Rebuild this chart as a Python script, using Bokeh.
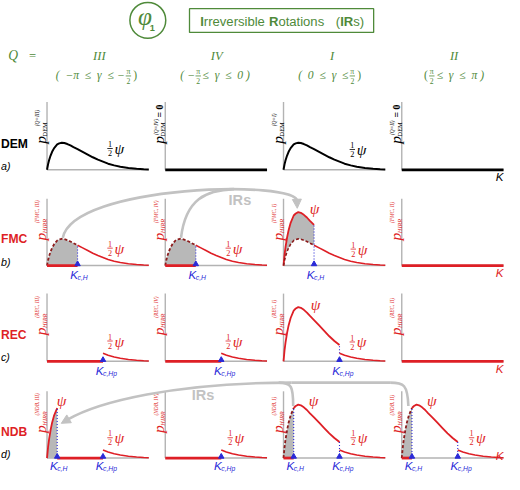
import math
from bokeh.plotting import figure
from bokeh.models import Range1d, Arrow, NormalHead
from bokeh.core.properties import value
from bokeh.embed import file_html
from bokeh.resources import INLINE

# ---------------- values ----------------
quadrants = ["III", "IV", "I", "II"]
row_names = ["DEM", "FMC", "REC", "NDB"]
row_letters = ["a)", "b)", "c)", "d)"]
# normalised orientation distribution psi(K) (sampled off the drawn curve)
K_grid = [0.0, 0.01, 0.02, 0.035, 0.05, 0.07, 0.10, 0.12, 0.145, 0.17, 0.20, 0.23,
          0.26, 0.30, 0.35, 0.40, 0.45, 0.50, 0.55, 0.60, 0.66, 0.72, 0.80, 0.88, 0.95, 1.0]
psi = [0.0, 0.16, 0.28, 0.42, 0.53, 0.64, 0.75, 0.78, 0.80, 0.79, 0.76, 0.72,
       0.67, 0.61, 0.53, 0.45, 0.37, 0.30, 0.24, 0.18, 0.13, 0.09, 0.055, 0.03, 0.015, 0.01]
half_psi = [v / 2 for v in psi]
Kc_H_FMC = 0.30
Kc_H_NDB = 0.10
Kc_Hp = 0.55

# ---------------- layout / style ----------------
COL_X = [48, 170, 292, 414]
PW = 105
ROW_TOP = [105, 205, 303, 404]
ROW_BASE = [175, 274, 373, 473]
GREEN = "#4f8a3a"
RED = "#de1f26"
DARK = "#8c1c1c"
BLUE = "#2a2ad8"
AXG = "#b3b3b3"
ARG = "#c2c2c2"
SHADE = "#b8b8b8"
SERIF = "Liberation Serif"
SANS = "Liberation Sans"
FS = 0.97
SP = " \u00a0"  # wide space that survives SVG whitespace collapsing

fig = figure(width=504, height=474, x_range=Range1d(0, 520), y_range=Range1d(0, 490),
             output_backend="svg", toolbar_location=None, min_border=0,
             x_axis_type=None, y_axis_type=None)
fig.grid.visible = False
fig.outline_line_color = None


def SY(y):
    return 490 - y


def PX(c, k):
    return COL_X[c] + k * PW


def PY(r, v):
    return ROW_BASE[r] - v * (ROW_BASE[r] - ROW_TOP[r])


def T(x, y, s, size, color, font=SANS, style="normal", align="left", baseline="middle", angle=0.0):
    fig.text(x=[x], y=[SY(y)], text=[s], text_font=value(font),
             text_font_size=value(f"{size * FS:.2f}px"),
             text_font_style=value(style), text_color=color, text_align=value(align),
             text_baseline=value(baseline), angle=angle)


def L(xs, ys, color, width, dash="solid"):
    fig.line(xs, [SY(y) for y in ys], line_color=color, line_width=width, line_dash=dash)


def seg(k0, k1):
    return [i for i, k in enumerate(K_grid) if k0 - 1e-9 <= k <= k1 + 1e-9]


def at(vals, k):
    i = min(range(len(K_grid)), key=lambda j: abs(K_grid[j] - k))
    return vals[i]


def curve(c, r, vals, k0, k1, color, width=1.8, dash="solid"):
    idx = seg(k0, k1)
    L([PX(c, K_grid[i]) for i in idx], [PY(r, vals[i]) for i in idx], color, width, dash)


def shade(c, r, k0, k1, upper, lower=None):
    idx = seg(k0, k1)
    fig.varea(x=[PX(c, K_grid[i]) for i in idx],
              y1=[SY(PY(r, upper[i])) for i in idx],
              y2=[SY(PY(r, lower[i] if lower else 0.0)) for i in idx],
              fill_color=SHADE, fill_alpha=1.0)


def vdot(c, r, k, vtop, vbot=0.0):
    L([PX(c, k), PX(c, k)], [PY(r, vbot), PY(r, vtop)], BLUE, 1.1, "1 2")


def thick(c, r, k0, k1, color):
    L([PX(c, k0), PX(c, k1)], [ROW_BASE[r], ROW_BASE[r]], color, 2.8)


def marker(c, r, k):
    fig.scatter(x=[PX(c, k)], y=[SY(ROW_BASE[r] - 1.5)], marker="triangle", size=5.5,
                fill_color=BLUE, line_color=BLUE)


def klabel(c, r, k, sub, dy=0):
    x = PX(c, k)
    b = ROW_BASE[r]
    T(x + 0.5, b + 9 + dy, "K", 12, BLUE, SANS, "italic", "right")
    T(x, b + 12.5 + dy, sub, 7, BLUE, SANS, "italic", "left")


def frac(x, y, top, bot, color, size=8.5):
    T(x, y - 4.5, top, size, color, SERIF, "normal", "center")
    T(x, y + 4.8, bot, size, color, SERIF, "normal", "center")
    L([x - 2.8, x + 2.8], [y, y], color, 0.8)


def half_label(x, y, color):
    frac(x, y, "1", "2", color)
    T(x + 4.5, y, "\u03c8", 16, color, SERIF, "italic", "left")


def psi_label(x, y, color):
    T(x, y, "\u03c8", 16, color, SERIF, "italic", "left")


def ylab(c, r, sub, sup, color, eq0=False, sub_style="italic"):
    x0 = COL_X[c]
    top = ROW_TOP[r]
    A = math.pi / 2
    T(x0 - 6.5, top + 43, "p", 16, color, SERIF, "italic", "left", "middle", A)
    T(x0 - 2.5, top + 35.5, sub, 6.5, color, SERIF, sub_style, "left", "middle", A)
    if eq0:
        T(x0 - 10, top + 34, sup, 5.5, color, SERIF, "italic", "left", "middle", A)
        T(x0 - 5.5, top + 16, "= 0", 10, color, SERIF, "bold", "left", "middle", A)
    else:
        T(x0 - 10, top + 25, sup, 5.5, color, SERIF, "italic", "left", "middle", A)


# ---------------- header ----------------
fig.circle(x=[152], y=[SY(20.5)], radius=18.5, fill_color=None, line_color=GREEN, line_width=1.5)
T(149, 17, "\u03c6", 26, GREEN, SERIF, "italic", "center")
T(156.5, 28.5, "1", 9.5, GREEN, SANS, "bold", "center")
fig.quad(left=[195], right=[385], top=[SY(8.5)], bottom=[SY(33)], fill_color=None,
         line_color=GREEN, line_width=1.3)
TS = 13.5
for s, x, st in [("I", 206, "bold"), ("rreversible", 209.8, "normal"), ("R", 277, "bold"),
                 ("otations", 286.7, "normal"), ("(", 346, "normal"), ("IR", 350.5, "bold"),
                 ("s)", 364, "normal")]:
    T(x, 21.5, s, TS, GREEN, SANS, st, "left")

T(13, 57, "Q", 14, GREEN, SERIF, "italic", "center")
T(33, 57, "=", 13, GREEN, SERIF, "normal", "center")
for q, x in zip(quadrants, [102, 223, 342, 468]):
    T(x, 57, q, 13, GREEN, SERIF, "italic", "center")

IY = 78
T(128, IY, "(" + SP + "\u2212\u03c0" + SP + "\u2264" + SP + "\u03b3" + SP + "\u2264 \u2212",
  12, GREEN, SERIF, "italic", "right")
frac(132, IY, "\u03c0", "2", GREEN, 8)
T(137, IY, ")", 12, GREEN, SERIF, "normal", "left")
T(200.5, IY, "( \u2212", 12, GREEN, SERIF, "italic", "right")
frac(204, IY, "\u03c0", "2", GREEN, 8)
T(208.5, IY, "\u2264" + SP + "\u03b3" + SP + "\u2264" + SP + "0 )", 12, GREEN, SERIF, "italic", "left")
T(359, IY, "(" + SP + "0" + SP + "\u2264" + SP + "\u03b3" + SP + "\u2264",
  12, GREEN, SERIF, "italic", "right")
frac(363, IY, "\u03c0", "2", GREEN, 8)
T(368, IY, ")", 12, GREEN, SERIF, "normal", "left")
T(441, IY, "(", 12, GREEN, SERIF, "normal", "right")
frac(445, IY, "\u03c0", "2", GREEN, 8)
T(450, IY, "\u2264" + SP + "\u03b3" + SP + "\u2264" + SP + "\u03c0 )", 12, GREEN, SERIF, "italic", "left")

# ---------------- panel frames ----------------
for r in range(4):
    for c in range(4):
        L([COL_X[c], COL_X[c]], [ROW_TOP[r], ROW_BASE[r]], AXG, 1.4)
        L([COL_X[c], COL_X[c] + PW], [ROW_BASE[r], ROW_BASE[r]], AXG, 1.4)
    col = "black" if r == 0 else RED
    T(0.5, ROW_BASE[r] - 27, row_names[r], 12.5, col, SANS, "bold", "left")
    T(0.5, ROW_BASE[r] - 4, row_letters[r], 11, "black", SANS, "italic", "left")
    ky = ROW_BASE[r] - 3 if r == 3 else ROW_BASE[r] + 7
    T(519, ky, "K", 12, col, SANS, "italic", "right")

# ---------------- a) DEM ----------------
for c in range(4):
    eq0 = c in (1, 3)
    ylab(c, 0, "DEM", f"(Q={quadrants[c]})", "black", eq0=eq0, sub_style="normal")
    if eq0:
        thick(c, 0, 0.0, 1.0, "black")
    else:
        curve(c, 0, half_psi, 0.0, 1.0, "black", 2.0)
half_label(COL_X[0] + 65, ROW_BASE[0] - 22, "black")
half_label(COL_X[2] + 71, ROW_BASE[0] - 21, "black")

# ---------------- b) FMC ----------------
r = 1
for c in range(4):
    ylab(c, r, "HIRR", f"(FMC, {quadrants[c]})", RED)
kh = Kc_H_FMC
for c in (0, 1):
    shade(c, r, 0.0, kh, half_psi)
    curve(c, r, half_psi, 0.0, kh, DARK, 1.8, "3 2")
    curve(c, r, half_psi, kh, 1.0, RED, 1.6)
    thick(c, r, 0.0, kh, RED)
    vdot(c, r, kh, at(half_psi, kh))
    marker(c, r, kh)
    klabel(c, r, kh, "c,H")
    half_label(COL_X[c] + 65, ROW_BASE[r] - 18, RED)
c = 2
shade(c, r, 0.0, kh, psi, half_psi)
curve(c, r, psi, 0.0, kh, RED, 1.8)
curve(c, r, half_psi, 0.0, kh, DARK, 1.6, "3 2")
curve(c, r, half_psi, kh, 1.0, RED, 1.6)
vdot(c, r, kh, at(psi, kh))
marker(c, r, kh)
klabel(c, r, kh, "c,H")
psi_label(COL_X[c] + 27, ROW_BASE[r] - 59, RED)
half_label(COL_X[c] + 72, ROW_BASE[r] - 17, RED)
thick(3, r, 0.0, 1.0, RED)

# ---------------- c) REC ----------------
r = 2
for c in range(4):
    ylab(c, r, "HIRR", f"(REC, {quadrants[c]})", RED)
for c in (0, 1):
    thick(c, r, 0.0, Kc_Hp, RED)
    curve(c, r, half_psi, Kc_Hp, 1.0, RED, 1.6)
    marker(c, r, Kc_Hp)
    klabel(c, r, Kc_Hp, "c,Hp")
    half_label(COL_X[c] + 65, ROW_BASE[r] - 21, RED)
c = 2
curve(c, r, psi, 0.0, Kc_Hp, RED, 1.8)
vdot(c, r, Kc_Hp, at(psi, Kc_Hp), at(half_psi, Kc_Hp))
curve(c, r, half_psi, Kc_Hp, 1.0, RED, 1.6)
marker(c, r, Kc_Hp)
klabel(c, r, Kc_Hp, "c,Hp")
psi_label(COL_X[c] + 28, ROW_BASE[r] - 59, RED)
half_label(COL_X[c] + 71, ROW_BASE[r] - 20, RED)
thick(3, r, 0.0, 1.0, RED)

# ---------------- d) NDB ----------------
r = 3
kh = Kc_H_NDB
for c in range(4):
    ylab(c, r, "HIRR", f"(NDB, {quadrants[c]})", RED)
c = 0
shade(c, r, 0.0, kh, psi)
curve(c, r, psi, 0.0, kh, RED, 1.8)
vdot(c, r, kh, at(psi, kh))
thick(c, r, kh, Kc_Hp, RED)
curve(c, r, half_psi, Kc_Hp, 1.0, RED, 1.6)
psi_label(COL_X[c] + 10, ROW_BASE[r] - 60, RED)
half_label(COL_X[c] + 65, ROW_BASE[r] - 21, RED)
c = 1
thick(c, r, 0.0, Kc_Hp, RED)
curve(c, r, half_psi, Kc_Hp, 1.0, RED, 1.6)
half_label(COL_X[c] + 67, ROW_BASE[r] - 21, RED)
for c in (2, 3):
    shade(c, r, 0.0, kh, psi)
    curve(c, r, psi, 0.0, kh, DARK, 1.8, "3 2")
    thick(c, r, 0.0, kh, RED)
    curve(c, r, psi, kh, Kc_Hp, RED, 1.8)
    vdot(c, r, kh, at(psi, kh))
    vdot(c, r, Kc_Hp, at(psi, Kc_Hp))
    curve(c, r, half_psi, Kc_Hp, 1.0, RED, 1.6)
    psi_label(COL_X[c] + 26, ROW_BASE[r] - 59, RED)
    half_label(COL_X[c] + 72, ROW_BASE[r] - 21, RED)
for c in range(4):
    if c != 1:
        marker(c, r, kh)
        klabel(c, r, kh, "c,H", -1.5)
    marker(c, r, Kc_Hp)
    klabel(c, r, Kc_Hp, "c,Hp", -1.5)

# ---------------- IRs arrows ----------------
def bez(p0, c0, c1, p1):
    fig.bezier(x0=[p0[0]], y0=[SY(p0[1])], x1=[p1[0]], y1=[SY(p1[1])],
               cx0=[c0[0]], cy0=[SY(c0[1])], cx1=[c1[0]], cy1=[SY(c1[1])],
               line_color=ARG, line_width=2.6)


def head(p0, p1):
    fig.add_layout(Arrow(end=NormalHead(size=9, fill_color=ARG, line_color=ARG),
                         x_start=p0[0], y_start=SY(p0[1]), x_end=p1[0], y_end=SY(p1[1]),
                         line_color=ARG, line_width=2.6))


r = 1
s1 = (PX(0, 0.145) + 1, PY(r, 0.40) - 1)
s2 = (PX(1, 0.145) + 1, PY(r, 0.40) - 1)
e1 = (PX(2, 0.135), PY(r, 0.80) - 4)
bez(s1, (75, 190), (308, 185), (e1[0], e1[1] - 7))
head((e1[0] - 0.3, e1[1] - 7), e1)
bez(s2, (191, 205), (212, 196), (241, 195))
T(247, 206, "IRs", 15, ARG, SANS, "bold", "center")

r = 3
s4 = (PX(3, 0.065), PY(r, 0.78))
s3 = (PX(2, 0.095), PY(r, 0.78))
tip = (PX(0, 0.14), PY(r, 0.52))
bez(s4, (420, 397), (416, 395), (402, 395))
L([402, 300], [395, 395], ARG, 2.6)
bez(s3, (PX(2, 0.095), 399), (PX(2, 0.08), 395), (287, 395))
bez((300, 395), (180, 395), (100, 415), (tip[0] + 6, tip[1] - 3.5))
head((tip[0] + 6, tip[1] - 3.5), tip)
T(209, 408, "IRs", 15, ARG, SANS, "bold", "center")

open("out.html", "w").write(file_html(fig, INLINE))
